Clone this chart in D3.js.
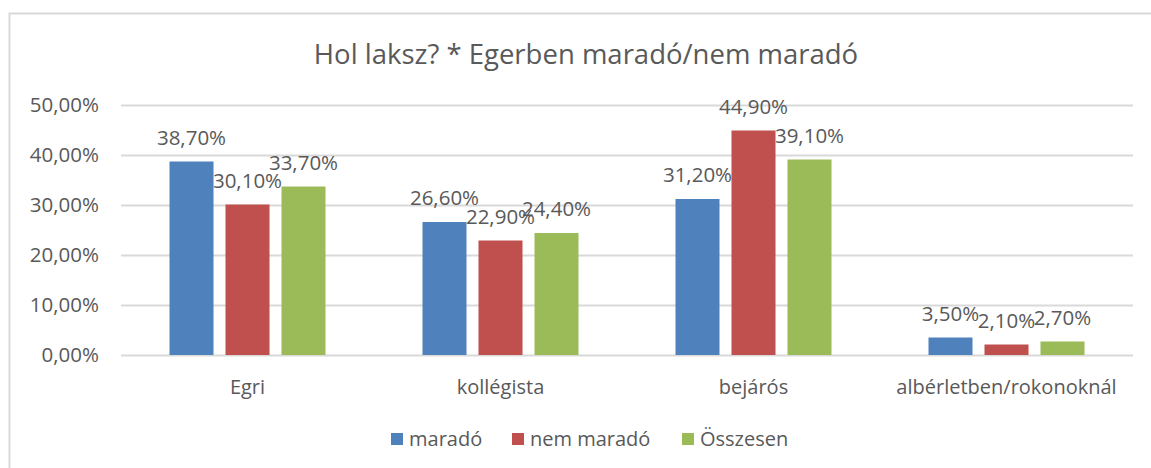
<!DOCTYPE html>
<html>
<head>
<meta charset="utf-8">
<script src="https://cdn.jsdelivr.net/npm/d3@7"></script>
<style>
  body { margin: 0; background: #fff; }
  svg { display: block; }
  text { font-family: "Open Sans", sans-serif; fill: #595959; }
</style>
</head>
<body>
<svg width="1151" height="468"></svg>
<script>
const categories = ["Egri", "kollégista", "bejárós", "albérletben/rokonoknál"];
const series_names = ["maradó", "nem maradó", "Összesen"];
const marado = [38.7, 26.6, 31.2, 3.5];
const nem_marado = [30.1, 22.9, 44.9, 2.1];
const osszesen = [33.7, 24.4, 39.1, 2.7];
const y_ticks = [0, 10, 20, 30, 40, 50];
const colors = ["#4f81bd", "#c0504d", "#9bbb59"];

const series = [marado, nem_marado, osszesen];

const plot_left = 121;
const plot_right = 1133;
const plot_top = 105;
const plot_bottom = 355;
const font_size = "20.5px";

let svg = d3.select("svg");

// chart border
svg.append("rect")
  .attr("x", 9.5)
  .attr("y", 13.5)
  .attr("width", 1150)
  .attr("height", 470)
  .attr("fill", "none")
  .attr("stroke", "#d9d9d9")
  .attr("stroke-width", 2);

// title
svg.append("text")
  .attr("x", 586)
  .attr("y", 64)
  .attr("text-anchor", "middle")
  .style("font-size", "27.5px")
  .text("Hol laksz? * Egerben maradó/nem maradó");

const x = d3.scaleBand()
  .domain(categories)
  .range([plot_left, plot_right]);

const x_inner = d3.scaleBand()
  .domain(d3.range(series.length))
  .range([0, x.bandwidth()])
  .paddingInner(0.214)
  .paddingOuter(0.866);

const y = d3.scaleLinear()
  .domain([0, 50])
  .range([plot_bottom, plot_top]);

const fmt = v => d3.format(".2f")(v).replace(".", ",") + "%";

// gridlines
svg.append("g")
  .selectAll("line")
  .data(y_ticks)
  .join("line")
  .attr("x1", plot_left)
  .attr("x2", plot_right)
  .attr("y1", d => y(d) + 0.5)
  .attr("y2", d => y(d) + 0.5)
  .attr("stroke", "#d9d9d9")
  .attr("stroke-width", 2);

// y axis labels
svg.append("g")
  .selectAll("text")
  .data(y_ticks)
  .join("text")
  .attr("x", 99)
  .attr("y", d => y(d))
  .attr("dy", "0.35em")
  .attr("text-anchor", "end")
  .style("font-size", font_size)
  .text(fmt);

// bars
series.forEach((vals, si) => {
  let g = svg.append("g");
  g.selectAll("rect")
    .data(vals)
    .join("rect")
    .attr("x", (d, i) => x(categories[i]) + x_inner(si))
    .attr("y", d => y(d))
    .attr("width", x_inner.bandwidth())
    .attr("height", d => y(0) - y(d))
    .attr("fill", colors[si]);
});

// data labels (drawn after all bars)
series.forEach((vals, si) => {
  svg.append("g")
    .selectAll("text")
    .data(vals)
    .join("text")
    .attr("x", (d, i) => x(categories[i]) + x_inner(si) + x_inner.bandwidth() / 2)
    .attr("y", d => y(d) - 17)
    .attr("text-anchor", "middle")
    .style("font-size", font_size)
    .text(fmt);
});

// category labels
svg.append("g")
  .selectAll("text")
  .data(categories)
  .join("text")
  .attr("x", d => x(d) + x.bandwidth() / 2)
  .attr("y", 394)
  .attr("text-anchor", "middle")
  .style("font-size", "20px")
  .text(d => d);

// legend
const legend_x = [391, 512, 682];
let legend = svg.append("g");
series_names.forEach((name, i) => {
  legend.append("rect")
    .attr("x", legend_x[i])
    .attr("y", 433)
    .attr("width", 12)
    .attr("height", 12)
    .attr("fill", colors[i]);
  legend.append("text")
    .attr("x", legend_x[i] + 18)
    .attr("y", 446)
    .style("font-size", "20px")
    .text(name);
});
</script>
</body>
</html>
